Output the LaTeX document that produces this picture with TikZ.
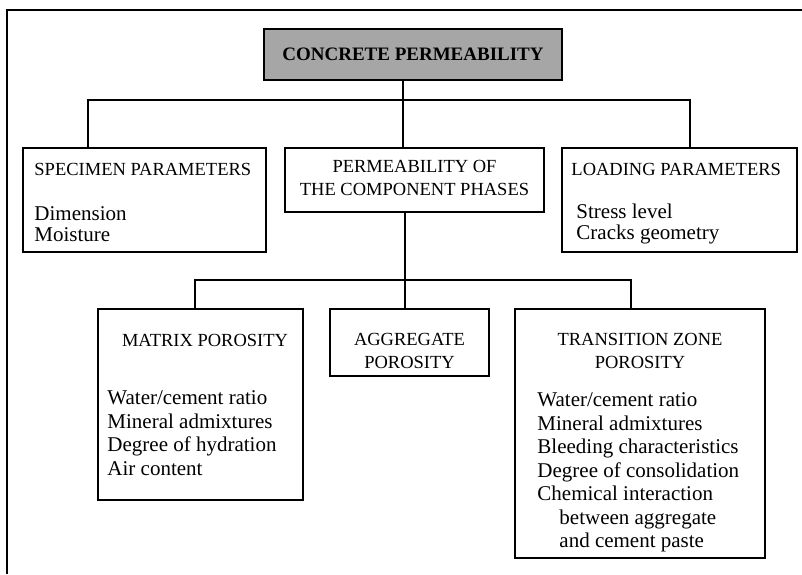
\documentclass[tikz,border=0pt]{standalone}
\usepackage{fontspec}
\setmainfont{Liberation Serif}
\usetikzlibrary{positioning}

\begin{document}
\begin{tikzpicture}[
    x=1pt, y=-1pt,
    box/.style={
        draw=black,
        line width=1.5pt,
        inner sep=0pt
    },
    head/.style={inner sep=0pt, font=\fontsize{18.5}{23}\selectfont, align=center},
    items/.style={inner sep=0pt, font=\fontsize{21}{23.5}\selectfont, align=left},
    link/.style={draw=black, line width=1.5pt}
]
    \useasboundingbox (0,0) rectangle (802,574);
    \draw[line width=1.4pt] (802,10) -- (7,10) -- (7,574);

    \node[box, fill=black!35, minimum width=298pt, minimum height=51pt,
        font=\bfseries\fontsize{19}{22}\selectfont] (title) at (413,54.5)
        {CONCRETE PERMEABILITY};

    \node[box, minimum width=243pt, minimum height=104pt] (spec) at (144.5,200) {};
    \node[box, minimum width=259pt, minimum height=64pt] (phases) at (414.5,180) {};
    \node[box, minimum width=235pt, minimum height=104pt] (load) at (679.5,200) {};

    \node[box, minimum width=205pt, minimum height=191pt] (matrix) at (200.5,404.5) {};
    \node[box, minimum width=159pt, minimum height=67pt] (aggr) at (409.5,342.5) {};
    \node[box, minimum width=250pt, minimum height=249pt] (trans) at (640,433.5) {};

    \node[head, anchor=base west] (spechead) at ([shift={(12,28)}]spec.north west)
        {SPECIMEN PARAMETERS};
    \node[items, anchor=north west, font=\fontsize{21}{21}\selectfont] (speclist)
        at ([shift={(12,59.5)}]spec.north west) {Dimension\\Moisture};

    \node[head, anchor=north] (phasehead) at ([shift={(0,13)}]phases.north)
        {PERMEABILITY OF\\THE COMPONENT PHASES};

    \node[head, anchor=base west] (loadhead) at ([shift={(10,28)}]load.north west)
        {LOADING PARAMETERS};
    \node[items, anchor=north west, font=\fontsize{21}{21}\selectfont] (loadlist)
        at ([shift={(15,56.5)}]load.north west) {Stress level\\Cracks geometry};

    \node[head, anchor=base] (matrixhead) at ([shift={(4.5,38)}]matrix.north)
        {MATRIX POROSITY};
    \node[items, anchor=north west] (matrixlist) at ([shift={(10,82.5)}]matrix.north west)
        {Water/cement ratio\\Mineral admixtures\\Degree of hydration\\Air content};

    \node[head, anchor=north] (aggrhead) at ([shift={(0,25)}]aggr.north)
        {AGGREGATE\\POROSITY};

    \node[head, anchor=north] (transhead) at ([shift={(0,25)}]trans.north)
        {TRANSITION ZONE\\POROSITY};
    \node[items, anchor=north west] (translist) at ([shift={(23,84.5)}]trans.north west)
        {Water/cement ratio\\Mineral admixtures\\Bleeding characteristics\\Degree of consolidation\\Chemical interaction\\\hspace*{22pt}between aggregate\\\hspace*{22pt}and cement paste};

    % connectors
    \coordinate (busa) at (88,100);
    \coordinate (busb) at (690,100);
    \coordinate (busc) at (403,100);
    \draw[link] (spec.north -| busa) |- (busb) -- (load.north -| busb);
    \draw[link] (title.south -| busc) -- (phases.north -| busc);

    \coordinate (busd) at (195,280);
    \coordinate (buse) at (631,280);
    \coordinate (busf) at (405,280);
    \draw[link] (matrix.north -| busd) |- (buse) -- (trans.north -| buse);
    \draw[link] (phases.south -| busf) -- (aggr.north -| busf);
\end{tikzpicture}
\end{document}
